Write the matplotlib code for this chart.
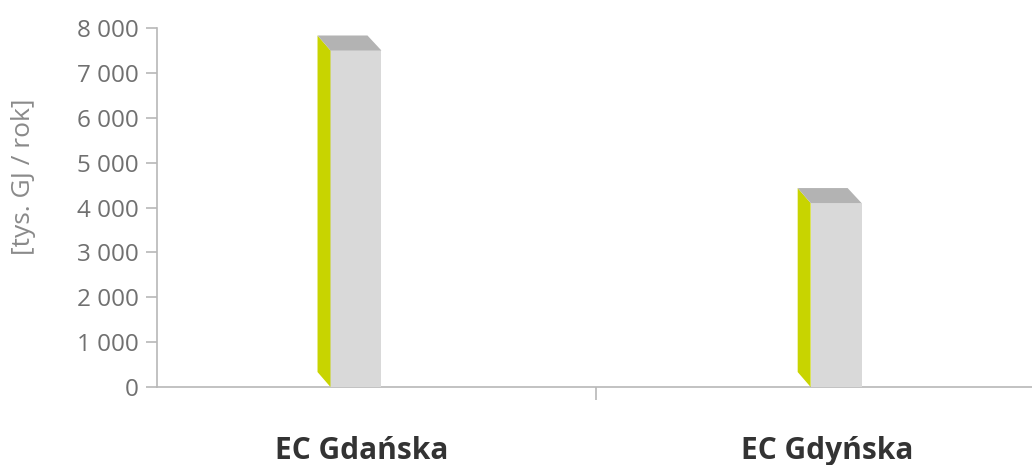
import matplotlib
matplotlib.use('Agg')
import matplotlib.pyplot as plt
from matplotlib.patches import Polygon
from matplotlib.ticker import FuncFormatter, FixedLocator

plt.rcParams['font.family'] = ['Open Sans', 'DejaVu Sans']

categories = ['EC Gdańska', 'EC Gdyńska']
values = [7500, 4100]
y_ticks = [0, 1000, 2000, 3000, 4000, 5000, 6000, 7000, 8000]

FRONT = '#d9d9d9'
SIDE = '#c8d400'
TOP = '#b3b3b3'
AXIS = '#b8b8b8'

fig = plt.figure(figsize=(10.32, 4.65), dpi=100)
ax = fig.add_axes([0.152, 0.1677, 0.848, 0.772])

xs = list(range(len(categories)))
width = 0.106
dx, dy = -0.027, 334  # depth of the fake 3d box
label_shift = [0.012, -0.019]

ax.bar(xs, values, width=width, color=FRONT, zorder=3)
for x, v in zip(xs, values):
    l, r = x - width / 2, x + width / 2
    side = Polygon([(l + dx, dy), (l + dx, v + dy), (l, v), (l, 0)],
                   closed=True, facecolor=SIDE, edgecolor='none', zorder=3)
    top = Polygon([(l, v), (l + dx, v + dy), (r + dx - 0.002, v + dy), (r, v)],
                  closed=True, facecolor=TOP, edgecolor='none', zorder=3)
    ax.add_patch(side)
    ax.add_patch(top)

ax.set_xlim(-0.4146, 1.408)
ax.set_ylim(0, 8000)
ax.yaxis.set_major_locator(FixedLocator(y_ticks))
ax.yaxis.set_major_formatter(FuncFormatter(lambda v, p: f'{int(v):,}'.replace(',', ' ')))
ax.xaxis.set_major_locator(FixedLocator([0.5]))
ax.set_xticklabels([''])

for s in ['top', 'right']:
    ax.spines[s].set_visible(False)
for s in ['left', 'bottom']:
    ax.spines[s].set_color(AXIS)
    ax.spines[s].set_linewidth(1.2)
ax.tick_params(axis='y', colors=AXIS, labelcolor='#707070', labelsize=17.5,
               length=8, width=1.2, pad=5)
ax.tick_params(axis='x', colors=AXIS, length=9, width=1.2)

for x, c, sh in zip(xs, categories, label_shift):
    ax.text(x + sh, -0.2, c, transform=ax.get_xaxis_transform(), ha='center',
            va='baseline', fontsize=21.5, fontweight='bold', color='#333333')

fig.text(0.023, 0.62, '[tys. GJ / rok]', rotation=90, ha='center', va='center',
         fontsize=19, color='#8a8a8a')

fig.savefig('out.png', dpi=100)
